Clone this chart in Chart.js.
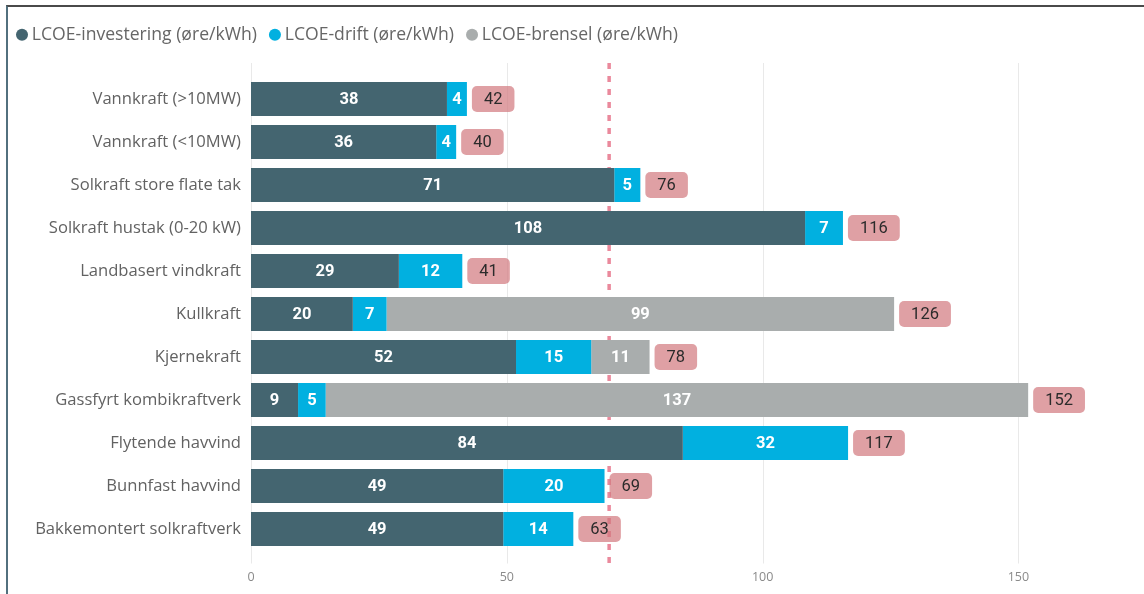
<!DOCTYPE html>
<html>
<head>
<meta charset="utf-8">
<script src="https://cdn.jsdelivr.net/npm/chart.js@4.4.0/dist/chart.umd.min.js"></script>
<style>
    html, body { margin: 0; padding: 0; background: #fff; }
    #wrap { position: relative; width: 1144px; height: 594px; overflow: hidden; }
    #frame { position: absolute; left: 6px; top: 5px; right: -4px; bottom: -4px;
             border-top: 2px solid #4a4a4a; border-left: 2px solid #52707e; }
    canvas { position: absolute; left: 0; top: 0; }
</style>
</head>
<body>
<div id="wrap">
    <div id="frame"></div>
    <canvas id="lcoeChart" width="1144" height="594"></canvas>
</div>
<script>
// Teknologier (kategorier)
const categories = [
    'Vannkraft (>10MW)',
    'Vannkraft (<10MW)',
    'Solkraft store flate tak',
    'Solkraft hustak (0-20 kW)',
    'Landbasert vindkraft',
    'Kullkraft',
    'Kjernekraft',
    'Gassfyrt kombikraftverk',
    'Flytende havvind',
    'Bunnfast havvind',
    'Bakkemontert solkraftverk'
];

// LCOE-komponenter i øre/kWh
const investering = [38.3, 36.2, 71.0, 108.3, 28.9, 19.9, 51.8, 9.2, 84.4, 49.3, 49.3];
const drift       = [3.9, 3.9, 5.1, 7.4, 12.4, 6.6, 14.7, 5.4, 32.3, 19.8, 13.7];
const brensel     = [0, 0, 0, 0, 0, 99.2, 11.4, 137.3, 0, 0, 0];

// Akse
const xTicks = [0, 50, 100, 150];
const referanse = 70;

// Grid lines + dashed reference line behind the bars (extends a bit past the chart area)
const rutenett = {
    id: 'rutenett',
    beforeDatasetsDraw(chart) {
        const { ctx, chartArea, scales } = chart;
        const top = chartArea.top - 14.5;
        const bottom = chartArea.bottom + 13;
        ctx.save();
        ctx.strokeStyle = '#e9e9e9';
        ctx.lineWidth = 1;
        xTicks.forEach(v => {
            const x = Math.round(scales.x.getPixelForValue(v)) + 0.5;
            ctx.beginPath();
            ctx.moveTo(x, top);
            ctx.lineTo(x, bottom);
            ctx.stroke();
        });

        const xr = scales.x.getPixelForValue(referanse);
        ctx.strokeStyle = 'rgba(232, 124, 145, 0.9)';
        ctx.lineWidth = 3.5;
        ctx.setLineDash([6, 7]);
        ctx.beginPath();
        ctx.moveTo(xr, top);
        ctx.lineTo(xr, bottom);
        ctx.stroke();
        ctx.restore();
    }
};

// Value labels inside the bars and total labels in pink boxes
const etiketter = {
    id: 'etiketter',
    afterDatasetsDraw(chart) {
        const ctx = chart.ctx;
        ctx.save();
        ctx.textAlign = 'center';
        ctx.textBaseline = 'middle';
        ctx.font = 'bold 16.5px Roboto';
        ctx.fillStyle = '#ffffff';
        chart.data.datasets.forEach((ds, i) => {
            const meta = chart.getDatasetMeta(i);
            meta.data.forEach((bar, j) => {
                const v = ds.data[j];
                if (!v) return;
                ctx.fillText(Math.round(v), (bar.x + bar.base) / 2, bar.y + 1);
            });
        });

        // totals (semi-transparent box, the reference line shows through)
        const xScale = chart.scales.x;
        const meta0 = chart.getDatasetMeta(0);
        ctx.font = '16.5px Roboto';
        categories.forEach((c, j) => {
            const sum = investering[j] + drift[j] + brensel[j];
            const label = String(Math.round(sum));
            const w = ctx.measureText(label).width + 24;
            const h = 26;
            const x0 = xScale.getPixelForValue(sum) + 5;
            const y = meta0.data[j].y;
            ctx.fillStyle = 'rgba(209, 119, 125, 0.7)';
            ctx.beginPath();
            ctx.roundRect(x0, y - h / 2, w, h, 5);
            ctx.fill();
            ctx.fillStyle = '#2b2b2b';
            ctx.fillText(label, x0 + w / 2, y + 1);
        });
        ctx.restore();
    }
};

// Extra room between legend and plot
const legendeAvstand = {
    id: 'legendeAvstand',
    beforeInit(chart) {
        const origFit = chart.legend.fit;
        chart.legend.fit = function() {
            origFit.bind(chart.legend)();
            this.height += 23.9;
        };
    }
};

const ctx = document.getElementById('lcoeChart').getContext('2d');
new Chart(ctx, {
    type: 'bar',
    data: {
        labels: categories,
        datasets: [
            { label: 'LCOE-investering (øre/kWh)', data: investering, backgroundColor: '#446570', borderWidth: 0 },
            { label: 'LCOE-drift (øre/kWh)', data: drift, backgroundColor: '#01b0e0', borderWidth: 0 },
            { label: 'LCOE-brensel (øre/kWh)', data: brensel, backgroundColor: '#a9adad', borderWidth: 0 }
        ]
    },
    options: {
        indexAxis: 'y',
        responsive: false,
        animation: false,
        barPercentage: 0.79,
        categoryPercentage: 1,
        layout: { padding: { left: 4, top: 9, right: 13, bottom: 0 } },
        scales: {
            x: {
                stacked: true,
                min: 0,
                max: 172,
                afterBuildTicks: (scale) => { scale.ticks = xTicks.map(v => ({ value: v })); },
                afterFit: (scale) => { scale.height = 43.5; },
                grid: { display: false, drawTicks: false },
                border: { display: false },
                ticks: { color: '#8a8a8a', padding: 19, font: { size: 12.5, family: 'Open Sans' } }
            },
            y: {
                stacked: true,
                afterFit: (scale) => { scale.width = 247; },
                grid: { display: false, drawTicks: false },
                border: { display: false },
                ticks: { color: '#626262', padding: 10, font: { size: 16.6, family: 'Open Sans' } }
            }
        },
        plugins: {
            legend: {
                position: 'top',
                align: 'start',
                labels: {
                    usePointStyle: true,
                    pointStyle: 'circle',
                    boxWidth: 2,
                    boxHeight: 8.5,
                    padding: 17,
                    color: '#666',
                    font: { size: 17.6, family: 'Open Sans' }
                }
            },
            tooltip: { enabled: false }
        }
    },
    plugins: [rutenett, etiketter, legendeAvstand]
});
</script>
</body>
</html>
